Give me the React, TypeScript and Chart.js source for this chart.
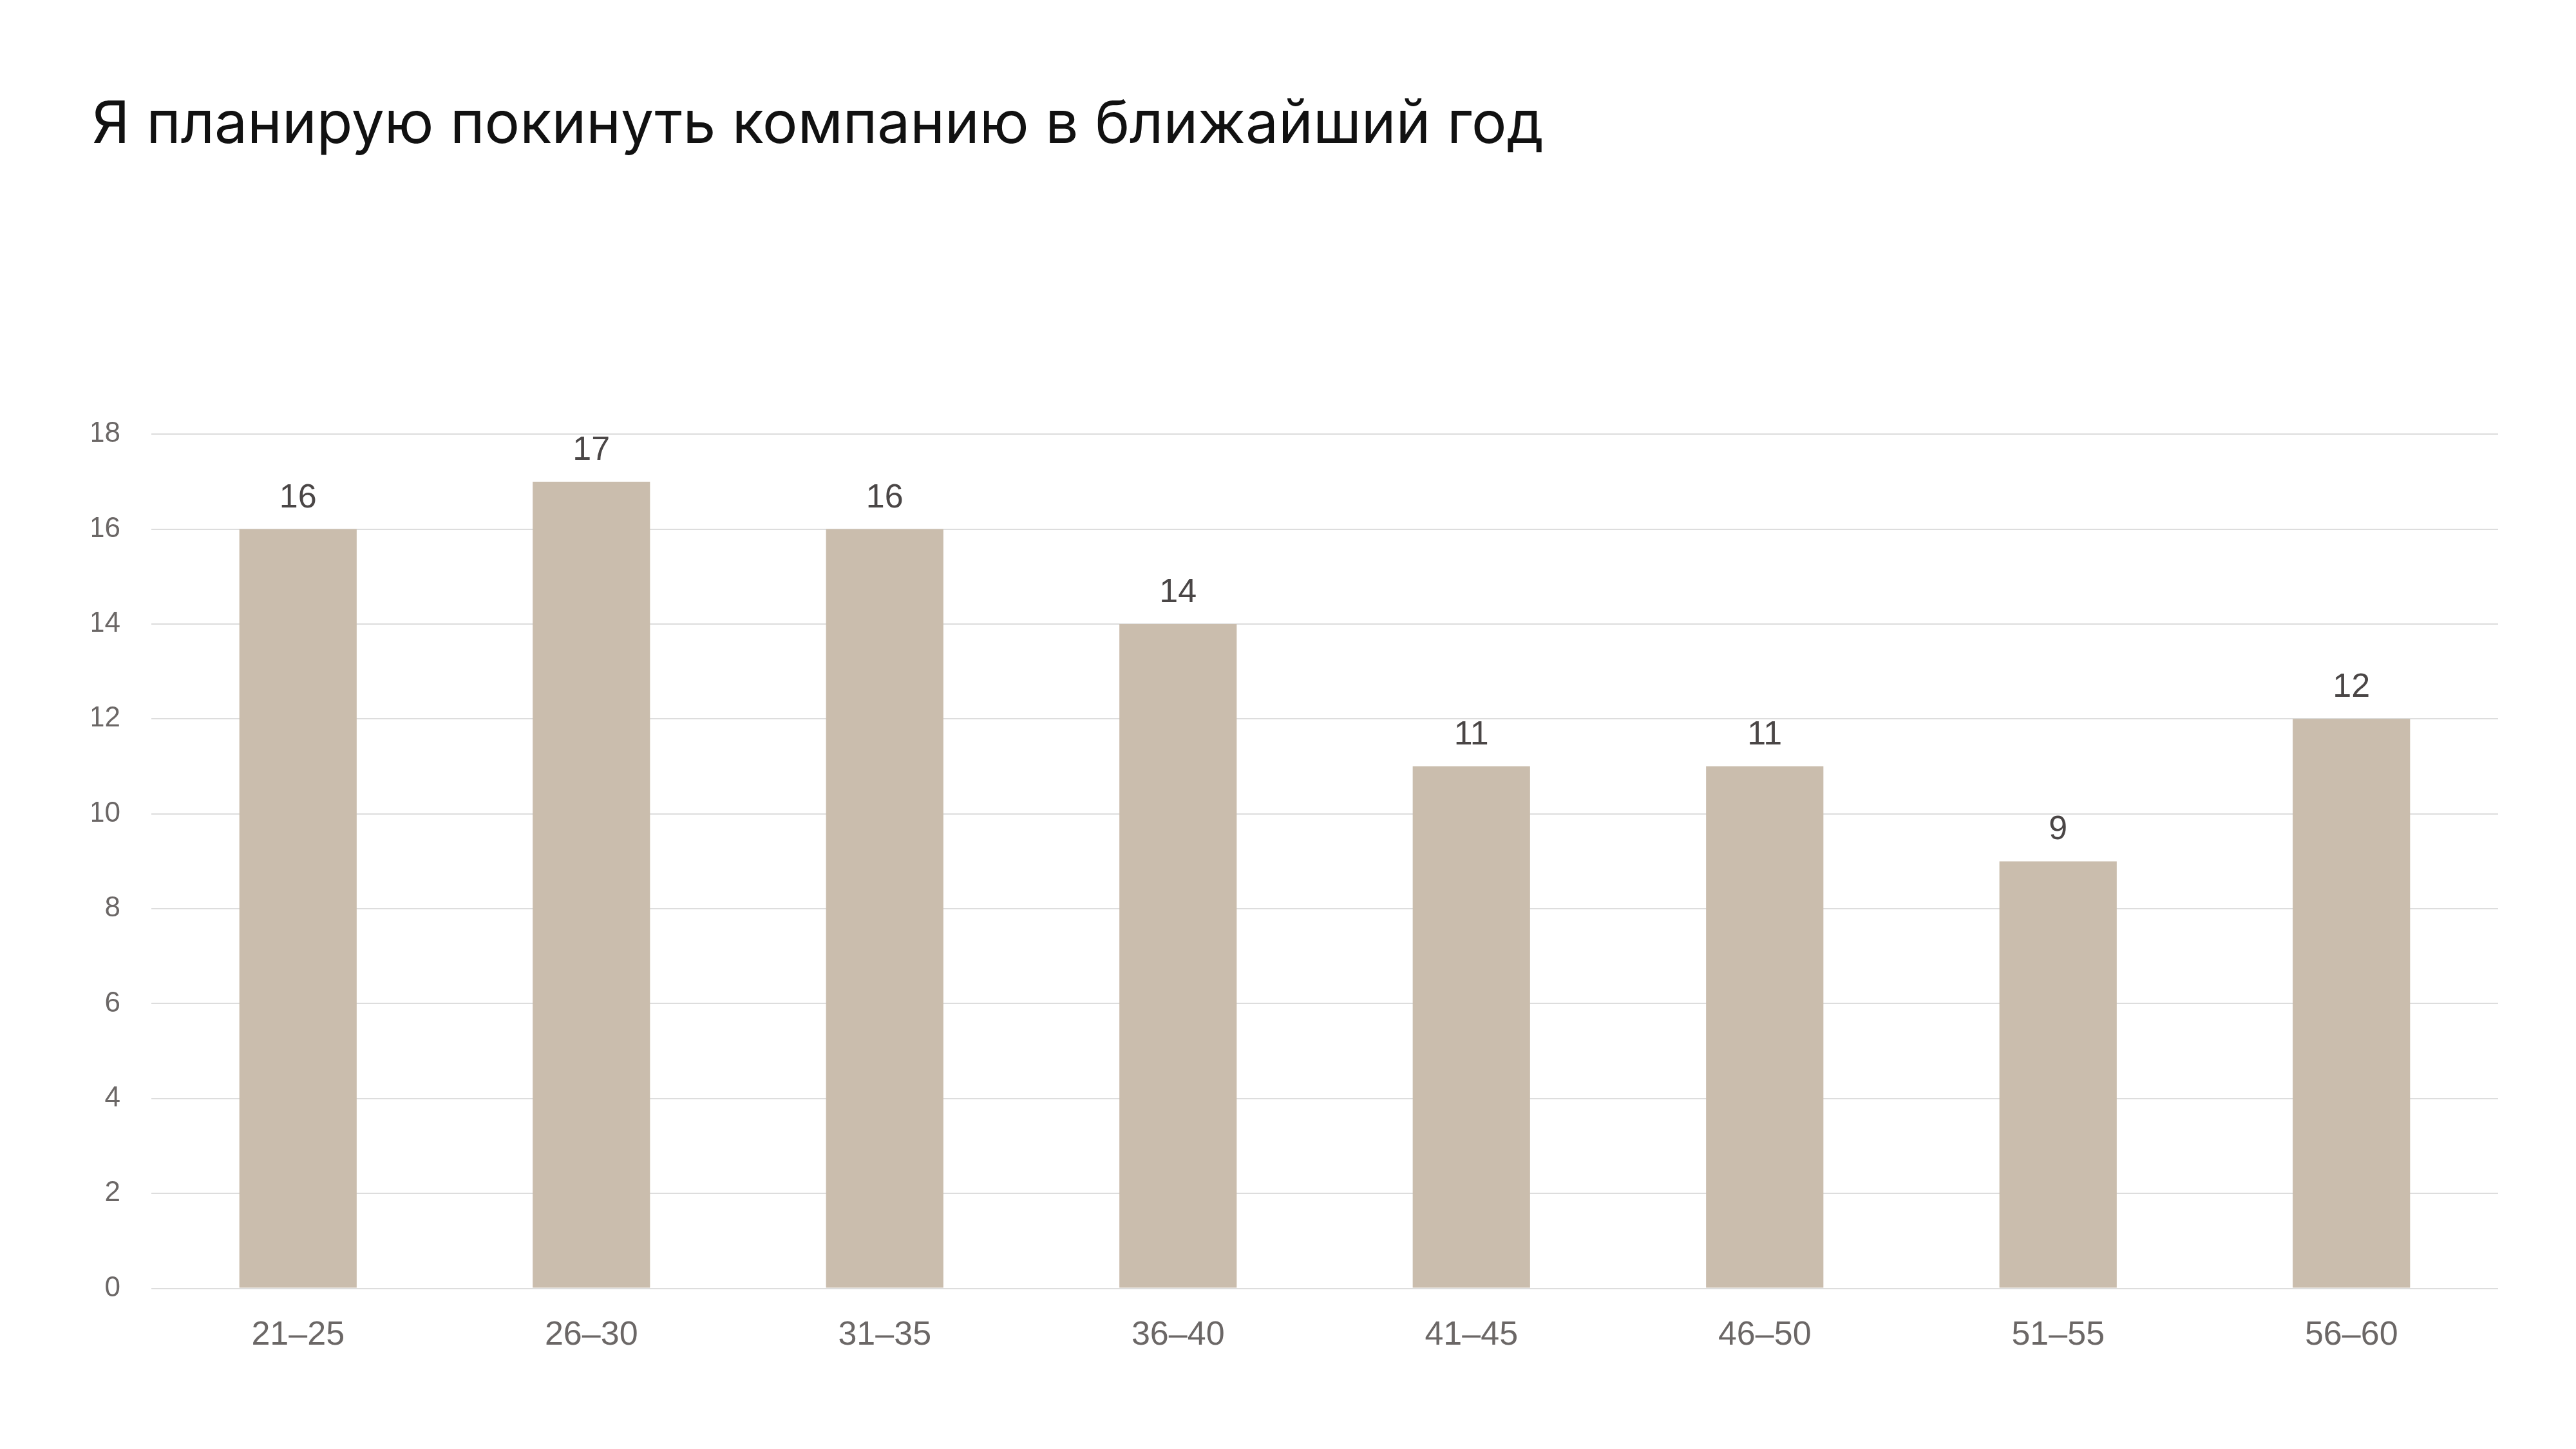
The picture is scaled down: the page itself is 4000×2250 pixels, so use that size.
import { Chart, registerables } from "chart.js";
import React, { useEffect, useRef } from "react";

Chart.register(...registerables);

// chart data
const ageGroups = ["21–25", "26–30", "31–35", "36–40", "41–45", "46–50", "51–55", "56–60"];
const leavingValues = [16, 17, 16, 14, 11, 11, 9, 12];
const yTicks = [0, 2, 4, 6, 8, 10, 12, 14, 16, 18];

const titleText = "Я планирую покинуть компанию в ближайший год";

// draws the value above each bar
const valueLabels = {
  id: "valueLabels",
  afterDatasetsDraw(chart: Chart) {
    const ctx = chart.ctx;
    const meta = chart.getDatasetMeta(0);
    ctx.save();
    ctx.font = "52px 'Liberation Sans', Arial, sans-serif";
    ctx.fillStyle = "#4a4646";
    ctx.textAlign = "center";
    ctx.textBaseline = "alphabetic";
    meta.data.forEach((bar: any, i: number) => {
      ctx.fillText(String(leavingValues[i]), bar.x, bar.y - 34);
    });
    ctx.restore();
  },
};

const App: React.FC = () => {
  const canvasRef = useRef<HTMLCanvasElement | null>(null);
  const chartRef = useRef<Chart | null>(null);

  useEffect(() => {
    if (chartRef.current) {
      chartRef.current.destroy();
    }
    if (!canvasRef.current) return;

    chartRef.current = new Chart(canvasRef.current, {
      type: "bar",
      data: {
        labels: ageGroups,
        datasets: [
          {
            data: leavingValues,
            backgroundColor: "#cabdad",
            borderWidth: 0,
            categoryPercentage: 1,
            barPercentage: 0.4,
          },
        ],
      },
      options: {
        animation: false,
        responsive: false,
        devicePixelRatio: 1,
        layout: {
          padding: { left: 143, right: 121, top: 0, bottom: 111 },
        },
        plugins: {
          legend: { display: false },
          tooltip: { enabled: false },
          title: {
            display: true,
            text: titleText,
            align: "start",
            color: "#111111",
            font: { family: "Inter, 'Noto Sans', sans-serif", size: 91, weight: "normal" },
            padding: { top: 140, bottom: 425 },
          },
        },
        scales: {
          x: {
            grid: { display: false },
            border: { display: false },
            ticks: {
              color: "#6b6766",
              padding: 34,
              font: { family: "'Liberation Sans', Arial, sans-serif", size: 52 },
            },
          },
          y: {
            min: 0,
            max: 18,
            afterBuildTicks: (scale: any) => {
              scale.ticks = yTicks.map((v) => ({ value: v }));
            },
            afterFit: (scale: any) => {
              scale.width = 92;
            },
            grid: { color: "#dddddd", lineWidth: 2, drawTicks: false },
            border: { display: false },
            ticks: {
              color: "#6b6766",
              padding: 48,
              font: { family: "'Liberation Sans', Arial, sans-serif", size: 44 },
            },
          },
        },
      },
      plugins: [valueLabels],
    });

    return () => {
      if (chartRef.current) {
        chartRef.current.destroy();
        chartRef.current = null;
      }
    };
  }, []);

  return (
    <div style={{ position: "absolute", left: 0, top: 0, width: 4000, height: 2250, background: "#ffffff" }}>
      <canvas ref={canvasRef} width={4000} height={2250}></canvas>
    </div>
  );
};

export default App;
